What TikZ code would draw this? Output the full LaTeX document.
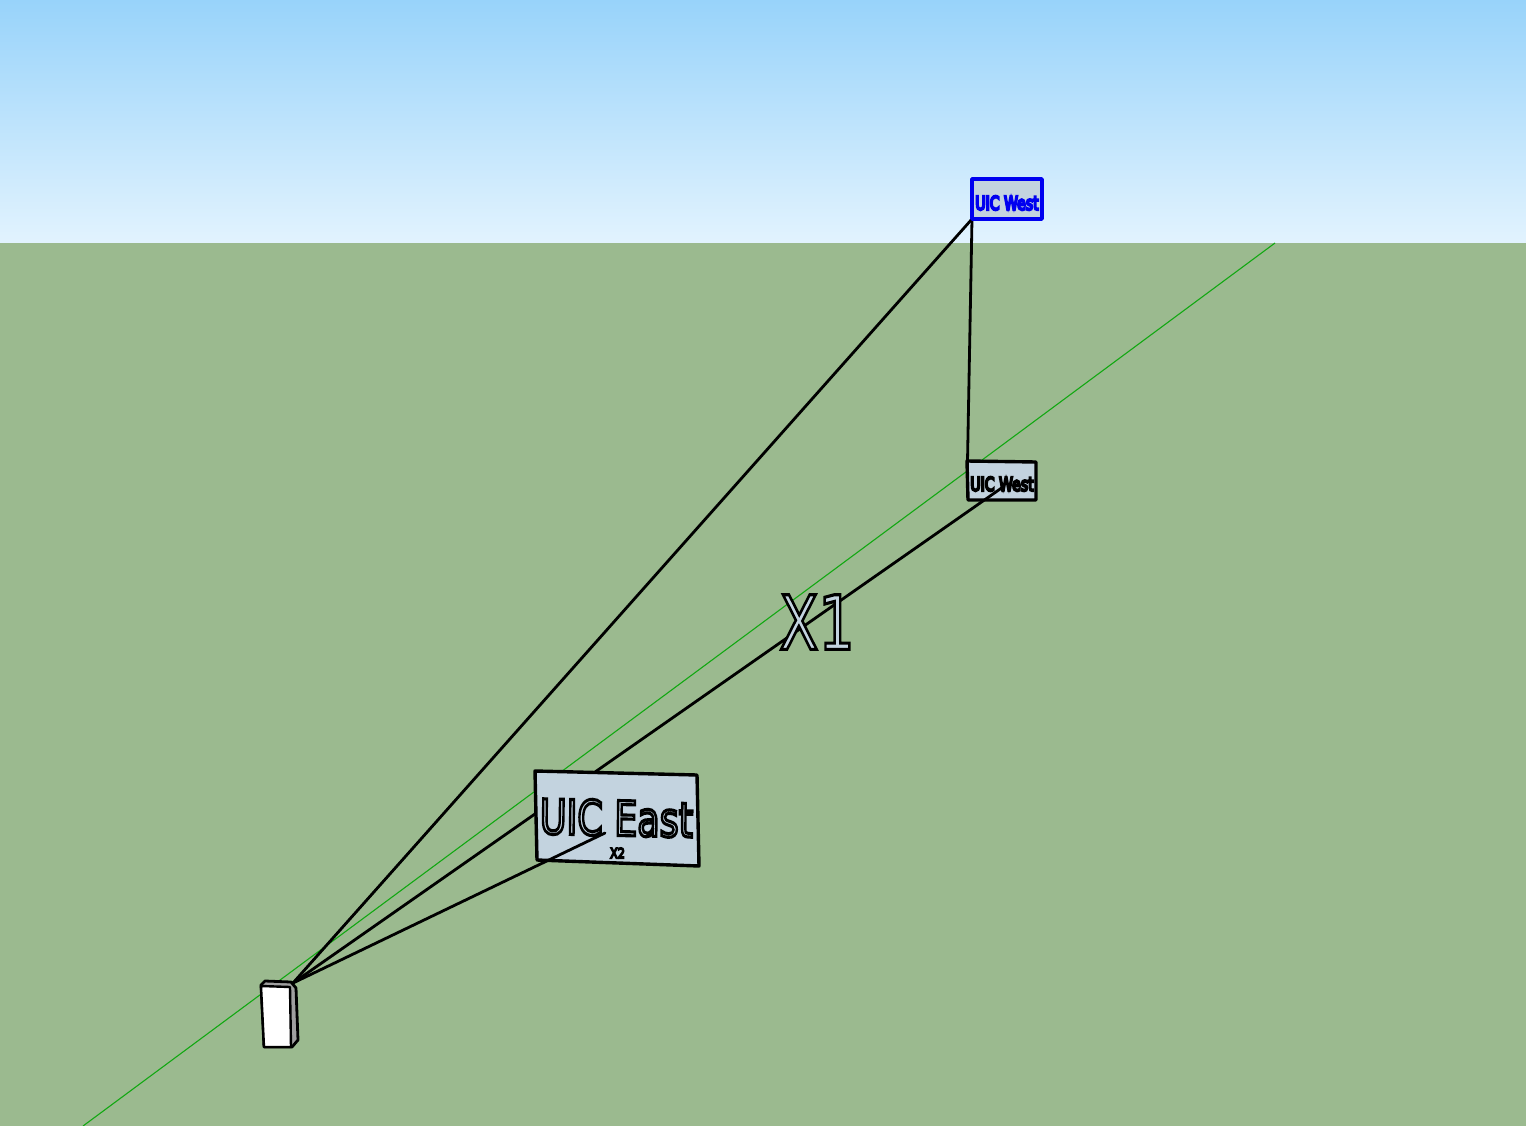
\documentclass[tikz,border=0pt]{standalone}
\usepackage{fontspec}
\setmainfont{DejaVu Sans}
\definecolor{skytop}{HTML}{98D3FA}
\definecolor{skybot}{HTML}{E2F3FE}
\definecolor{ground}{HTML}{9BBA8F}
\definecolor{panel}{HTML}{C3D3DF}
\definecolor{axisgreen}{HTML}{12A812}
\definecolor{selblue}{HTML}{0000F0}
% #1 stroke strength, #2 stroke colour (PDF operator), #3 text
\newcommand{\outl}[3]{{\addfontfeature{FakeBold=#1}\special{pdf:code #2}#3}}
\tikzset{
  edge/.style={black,line width=2.8pt,line cap=round,line join=round},
  panelbox/.style={draw=black,fill=panel,line width=3.4pt,line join=round},
  label3d/.style={inner sep=0pt,text=panel},
  axisline/.style={axisgreen,line width=1.1pt}
}
\begin{document}
\begin{tikzpicture}[x=1pt,y=-1pt]
\useasboundingbox (0,0) rectangle (1526,1126);
\shade[top color=skytop,bottom color=skybot] (0,0) rectangle (1526,243);
\fill[ground] (0,243) rectangle (1526,1126);
% named points
\coordinate (axisA) at (83,1126);
\coordinate (axisB) at (1275,243);
\coordinate (src) at (293,983);
\coordinate (westTopCorner) at (972,219);
\coordinate (westLowCorner) at (967.5,461);
\coordinate (westLowIn) at (1003,487);
\coordinate (eastIn) at (605,833);
\draw[axisline] (axisA) -- (axisB);
% West (lower) panel
\draw[panelbox] (967,461) -- (1036,462) -- (1036,500) -- (968,500) -- cycle;
\node[inner sep=0pt,text=black,xscale=.74] (westLowText) at (1002,484) {\fontsize{19}{19}\selectfont\outl{12}{0 G}{UIC West}};
\draw[edge] (src) -- (westLowIn);
\draw[edge] (westLowCorner) -- (westTopCorner);
\draw[edge] (src) -- (westTopCorner);
% West (upper, selected) panel
\draw[draw=selblue,fill=panel,line width=3.6pt,line join=round] (972,179) -- (1042,179) -- (1042,219) -- (972,219) -- cycle;
\node[inner sep=0pt,text=selblue,xscale=.74] (westTopText) at (1007,203) {\fontsize{19}{19}\selectfont\outl{12}{0 0 0.94 RG}{UIC West}};
% East panel
\draw[panelbox] (535,771) -- (697,775) -- (699,866) -- (537,860) -- cycle;
\node[label3d,xscale=.76,rotate=-1] (eastText) at (616.5,818) {\fontsize{48}{48}\selectfont\outl{6.5}{0 G}{UIC East}};
\node[inner sep=0pt,text=black,xscale=.8] (xtwo) at (617.5,853) {\fontsize{14}{14}\selectfont\outl{12}{0 G}{X2}};
\draw[edge] (src) -- (eastIn);
% X1
\node[label3d,xscale=.76] (xone) at (817,622) {\fontsize{75}{75}\selectfont\outl{4.2}{0 G}{X1}};
% post
\draw[black,fill=gray!75,line width=2.8pt,line join=round] (261,985) -- (265,981) -- (291,982) -- (296,988) -- (298,1040) -- (292,1047) -- (264,1047) -- cycle;
\fill[white,draw=black,line width=2.4pt,line join=round] (261,986) -- (290,987) -- (291,1047) -- (264,1047) -- cycle;
\end{tikzpicture}
\end{document}
